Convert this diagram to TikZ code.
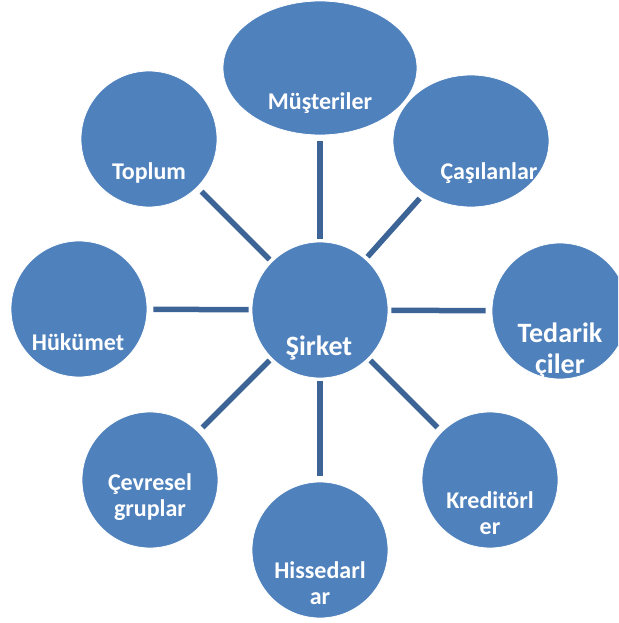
\documentclass[tikz,border=0pt]{standalone}
\usepackage{fontspec}
\setmainfont{Carlito}
\usepackage{tikz}
\usetikzlibrary{shapes.geometric}
\definecolor{partyblue}{HTML}{4F81BD}
\definecolor{linkblue}{HTML}{3C6496}
\tikzset{
  party/.style={fill=partyblue, draw=white, line width=0.8pt, inner sep=0pt},
  partylabel/.style={text=white, font=\bfseries\fontsize{24}{26}\selectfont, align=center, anchor=base},
  biglabel/.style={partylabel, font=\bfseries\fontsize{28}{31}\selectfont},
  link/.style={draw=linkblue, line width=5.5pt, shorten <=3pt, shorten >=6pt}
}
\newcommand{\partycircle}[2] {\node at (#1) (#2) [party, circle, minimum size=136pt] {};}
\newcommand{\partyoval}[4] {\node at (#1) (#2) [party, ellipse, minimum width=#3, minimum height=#4] {};}
\newcommand{\partytext}[3] {\node at (#1) (#2) [partylabel] {#3};}
\newcommand{\partylink}[2] {\draw [link] (#1) -- (#2);}

\begin{document}
\begin{tikzpicture}[x=1pt, y=-1pt]
\useasboundingbox (0,0) rectangle (618,623);
\clip (0,0) rectangle (618,623);

\partycircle {320,310}{sirket}
\node at (319,355) (sirket-t) [biglabel] {Şirket};

\partyoval {320,68}{musteri}{194pt}{134pt}
\partytext {320,110}{musteri-t}{Müşteriler}

\partyoval {471,141}{casilan}{156pt}{132pt}
\partytext {489,179}{casilan-t}{Çaşılanlar}

\partycircle {560,311}{tedarik}
\node at (560,373) (tedarik-t) [biglabel] {Tedarik\\çiler};

\partycircle {490,480}{kredi}
\partytext {490,534}{kredi-t}{Kreditörl\\er}

\partycircle {320,550}{hisse}
\partytext {320,604}{hisse-t}{Hissedarl\\ar}

\partycircle {150,480}{cevre}
\partytext {150,516}{cevre-t}{Çevresel\\gruplar}

\partycircle {79,309}{hukumet}
\partytext {78,350}{hukumet-t}{Hükümet}

\partycircle {149,139}{toplum}
\partytext {149,179}{toplum-t}{Toplum}

% spokes
\partylink {sirket}{musteri}
\partylink {sirket}{casilan}
\partylink {sirket}{tedarik}
\partylink {sirket}{kredi}
\partylink {sirket}{hisse}
\partylink {sirket}{cevre}
\partylink {sirket}{hukumet}
\partylink {sirket}{toplum}

\end{tikzpicture}
\end{document}
